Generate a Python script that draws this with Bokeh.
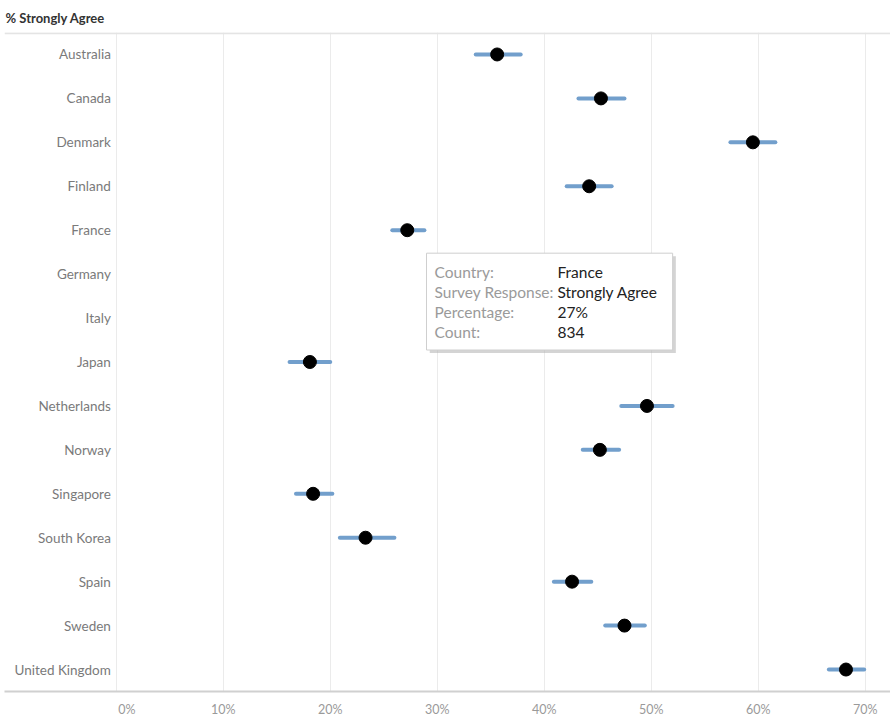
from bokeh.plotting import figure
from bokeh.models import FactorRange, Range1d, FixedTicker, Span, ColumnDataSource
from bokeh.core.properties import value
from bokeh.embed import file_html
from bokeh.resources import INLINE

# ---- data ----
countries = ["Australia", "Canada", "Denmark", "Finland", "France", "Germany", "Italy",
             "Japan", "Netherlands", "Norway", "Singapore", "South Korea", "Spain",
             "Sweden", "United Kingdom"]
pct = [35.6, 45.3, 59.5, 44.2, 27.2, None, None, 18.1, 49.6, 45.2, 18.4, 23.3, 42.6, 47.5, 68.2]
ci_low = [33.6, 43.2, 57.4, 42.1, 25.8, None, None, 16.2, 47.2, 43.6, 16.8, 20.9, 40.9, 45.7, 66.6]
ci_high = [37.8, 47.5, 61.6, 46.3, 28.8, None, None, 20.0, 52.0, 47.0, 20.2, 26.0, 44.4, 49.4, 69.9]
tick_values = [0, 10, 20, 30, 40, 50, 60, 70]
tick_labels = ["0%", "10%", "20%", "30%", "40%", "50%", "60%", "70%"]

# tooltip content
tip_keys = ["Country:", "Survey Response:", "Percentage:", "Count:"]
tip_vals = ["France", "Strongly Agree", "27%", "834"]

FONT = "Lato"

rows = [i for i, v in enumerate(pct) if v is not None]
src = ColumnDataSource(dict(
    country=[countries[i] for i in rows],
    pct=[pct[i] for i in rows],
    lo=[ci_low[i] for i in rows],
    hi=[ci_high[i] for i in rows],
))

p = figure(width=890, height=720,
           x_range=Range1d(-10.44, 72.36),
           y_range=FactorRange(factors=countries[::-1]),
           y_axis_location=None,
           output_backend="svg", toolbar_location=None,
           min_border_left=4, min_border_right=0, min_border_top=31, min_border_bottom=29)

p.outline_line_color = None
p.background_fill_color = "white"
p.border_fill_color = "white"

# title
p.title.text = "% Strongly Agree"
p.title.text_font = FONT
p.title.text_font_size = "13px"
p.title.text_font_style = "bold"
p.title.text_color = "#333333"
p.title.align = "left"
p.title.offset = 1
p.title.text_line_height = 0.9
p.title.standoff = 14

# grid
p.ygrid.grid_line_color = None
p.xgrid.ticker = FixedTicker(ticks=tick_values)
p.xgrid.grid_line_color = "#ebebeb"
p.xgrid.grid_line_width = 1

# x axis (0% label nudged right, like the reference)
label_pos = [1.0 if t == 0 else t for t in tick_values]
p.xaxis.ticker = FixedTicker(ticks=label_pos)
p.xaxis.major_label_overrides = {pos: lab for pos, lab in zip(label_pos, tick_labels)}
p.xaxis.major_tick_line_color = None
p.xaxis.minor_tick_line_color = None
p.xaxis.major_tick_out = 0
p.xaxis.major_tick_in = 0
p.xaxis.axis_line_color = "#d0d0d0"
p.xaxis.axis_line_width = 2
p.xaxis.major_label_text_font = FONT
p.xaxis.major_label_text_font_size = "12.5px"
p.xaxis.major_label_text_color = "#9a9a9a"
p.xaxis.major_label_standoff = 10

# top header line
p.add_layout(Span(location=14.985, dimension="width", line_color="#e4e4e4", line_width=2))

# country labels (row headers)
p.text(x=-0.5, y=countries, text=countries, text_align="right", text_baseline="middle",
       text_font=value(FONT), text_font_size="13.5px", text_color="#7a7a7a")

# error bars and points
p.segment(x0="lo", x1="hi", y0="country", y1="country", source=src,
          line_color="#729fcc", line_width=4, line_cap="round")
p.scatter(x="pct", y="country", source=src, size=13, fill_color="black", line_color="black")

# tooltip box
p.quad(left=29.3, right=52.3, top=9.977 - 0.07, bottom=7.773 - 0.07,
       fill_color="#b0b0b0", fill_alpha=0.55, line_color=None)
p.quad(left=29.0, right=52.0, top=9.977, bottom=7.773,
       fill_color="white", line_color="#cfcfcf", line_width=1)
tip_y = [9.545, 9.091, 8.636, 8.182]
p.text(x=29.75, y=tip_y, text=tip_keys, text_align="left", text_baseline="middle",
       text_font=value(FONT), text_font_size="15.5px", text_color="#9a9a9a")
p.text(x=41.24, y=tip_y, text=tip_vals, text_align="left", text_baseline="middle",
       text_font=value(FONT), text_font_size="15.5px", text_color="#222222")

open("out.html", "w").write(file_html(p, INLINE))
